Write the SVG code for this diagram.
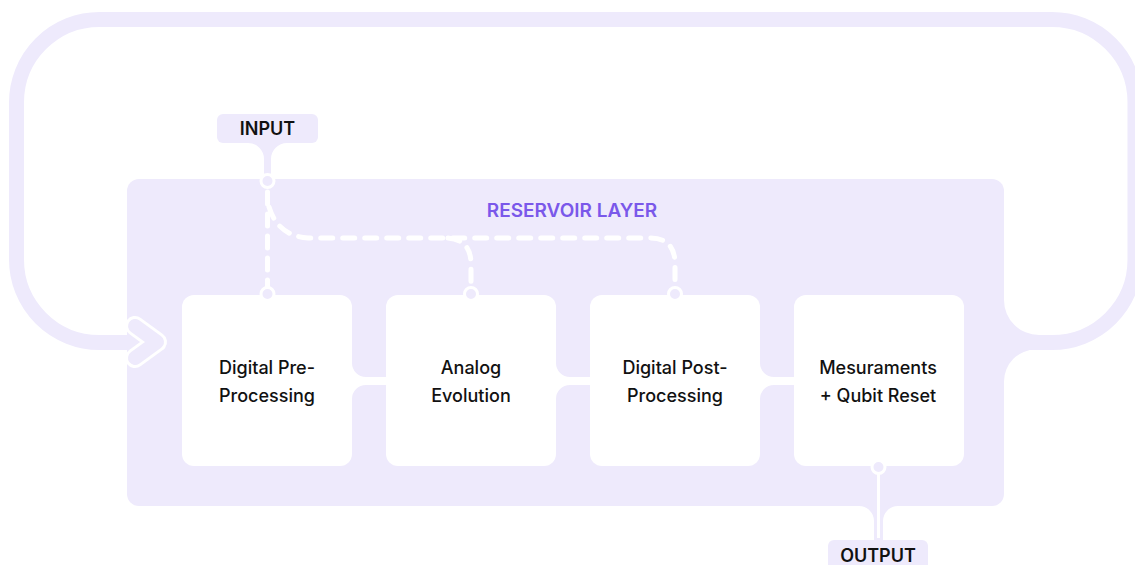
<svg xmlns="http://www.w3.org/2000/svg" width="1135" height="565" viewBox="0 0 1135 565">
<style>
.lav{fill:#EEEAFC}
.node{fill:#FFFFFF}
.lbl{font-family:Inter,"Liberation Sans",sans-serif;font-size:18px;font-weight:500;fill:#111111;text-anchor:middle}
.io{font-family:Inter,"Liberation Sans",sans-serif;font-size:18px;font-weight:600;fill:#111111;text-anchor:middle}
.title{font-family:Inter,"Liberation Sans",sans-serif;font-size:19px;font-weight:600;fill:#7A58EA;text-anchor:middle}
.dash{fill:none;stroke:#FFFFFF;stroke-width:5;stroke-linecap:round;stroke-dasharray:12 10}
.ring{fill:#EEEAFC;stroke:#FFFFFF;stroke-width:3}
</style>
<rect width="1135" height="565" fill="#FFFFFF"/>
<g id="connectors">
  <path id="loop" d="M1000,342.5 H1052 A83,83 0 0 0 1135,259.5 V102.5 A83,83 0 0 0 1052,19.5 H99.5 A83,83 0 0 0 16.5,102.5 V259.5 A83,83 0 0 0 99.5,342.5 H140" fill="none" stroke="#EEEAFC" stroke-width="15"/>
</g>
<g id="reservoir">
  <rect class="lav" x="127" y="179" width="877" height="327" rx="12"/>
  <path class="lav" d="M1004,300 A35,35 0 0 0 1039,335 L1003,335 Z"/>
  <path class="lav" d="M1036,349.5 A32,32 0 0 0 1004,381.5 L1003,349.5 Z"/>
  <text class="title" x="572" y="217">RESERVOIR LAYER</text>
</g>
<g id="input">
  <rect class="lav" x="217" y="114" width="101" height="29" rx="6"/>
  <rect class="lav" x="264" y="140" width="7" height="42"/>
  <path class="lav" d="M248,143 A16,16 0 0 1 264,159 L264,143 Z"/>
  <path class="lav" d="M287,143 A16,16 0 0 0 271,159 L271,143 Z"/>
  <text class="io" x="267.5" y="135">INPUT</text>
</g>
<g id="output">
  <rect class="lav" x="874" y="500" width="9" height="42"/>
  <path class="lav" d="M859,506 A15,15 0 0 1 874,521 L874,505 Z"/>
  <path class="lav" d="M898,506 A15,15 0 0 0 883,521 L883,505 Z"/>
  <rect class="lav" x="828" y="540" width="100" height="35" rx="6"/>
  <line x1="878.5" y1="470" x2="878.5" y2="538" stroke="#FFFFFF" stroke-width="3"/>
  <text class="io" x="878" y="562">OUTPUT</text>
</g>
<g id="arrowhead">
  <polyline points="135,326 157,342 135,358" fill="none" stroke="#FFFFFF" stroke-width="20" stroke-linejoin="round" stroke-linecap="round"/>
  <polyline points="135,326 157,342 135,358" fill="none" stroke="#EEEAFC" stroke-width="14" stroke-linejoin="round" stroke-linecap="round"/>
</g>
<g id="links">
  <rect class="node" x="350" y="377" width="38" height="8"/>
  <path class="node" d="M352,363 A14,14 0 0 0 366,377 L352,377 Z"/>
  <path class="node" d="M366,385 A14,14 0 0 0 352,399 L352,385 Z"/>
  <rect class="node" x="554" y="377" width="38" height="8"/>
  <path class="node" d="M556,363 A14,14 0 0 0 570,377 L556,377 Z"/>
  <path class="node" d="M570,385 A14,14 0 0 0 556,399 L556,385 Z"/>
  <rect class="node" x="758" y="377" width="38" height="8"/>
  <path class="node" d="M760,363 A14,14 0 0 0 774,377 L760,377 Z"/>
  <path class="node" d="M774,385 A14,14 0 0 0 760,399 L760,385 Z"/>
</g>
<g id="node-pre">
  <rect class="node" x="182" y="295" width="170" height="171" rx="12"/>
  <text class="lbl" x="267" y="374">Digital Pre-</text>
  <text class="lbl" x="267" y="402">Processing</text>
</g>
<g id="node-analog">
  <rect class="node" x="386" y="295" width="170" height="171" rx="12"/>
  <text class="lbl" x="471" y="374">Analog</text>
  <text class="lbl" x="471" y="402">Evolution</text>
</g>
<g id="node-post">
  <rect class="node" x="590" y="295" width="170" height="171" rx="12"/>
  <text class="lbl" x="675" y="374">Digital Post-</text>
  <text class="lbl" x="675" y="402">Processing</text>
</g>
<g id="node-meas">
  <rect class="node" x="794" y="295" width="170" height="171" rx="12"/>
  <text class="lbl" x="878" y="374">Mesuraments</text>
  <text class="lbl" x="878" y="402">+ Qubit Reset</text>
</g>
<g id="dashed">
  <path class="dash" d="M267.5,192 V286"/>
  <path class="dash" d="M269,207 Q278,236 308,238 H650 Q675,238 675,264 V286"/>
  <path class="dash" d="M448,238 Q471,240 471,264 V286"/>
</g>
<g id="rings">
  <circle class="ring" cx="267.5" cy="181" r="6.5"/>
  <circle class="ring" cx="267.5" cy="294" r="6.5"/>
  <circle class="ring" cx="471" cy="294" r="6.5"/>
  <circle class="ring" cx="675" cy="294" r="6.5"/>
  <circle class="ring" cx="878.5" cy="467" r="6.5"/>
</g>
</svg>
